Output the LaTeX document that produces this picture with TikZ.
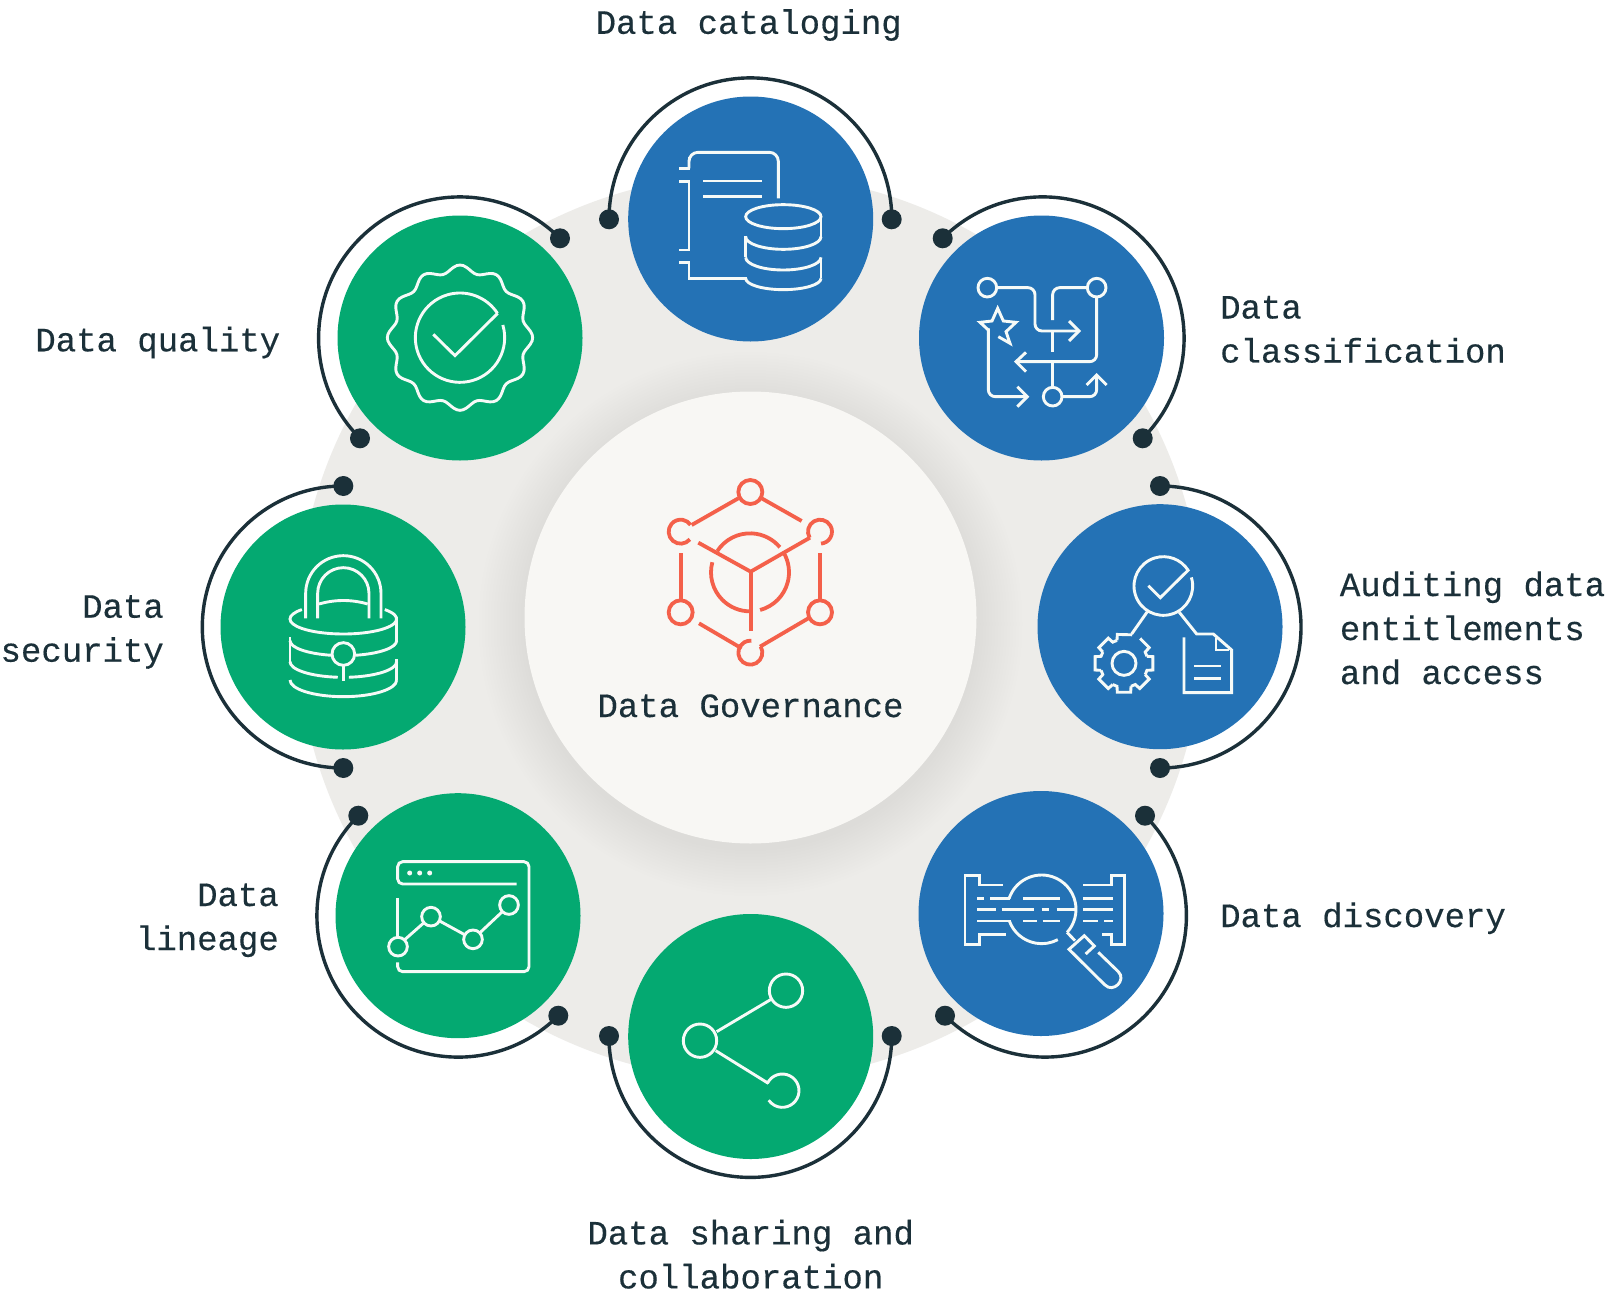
\documentclass[tikz,border=0pt]{standalone}
\usepackage{fontspec}
\newfontfamily\labfont[FakeBold=0.35]{Liberation Mono}
\definecolor{ink}{HTML}{1B3039}
\definecolor{hubblue}{HTML}{2472B5}
\definecolor{hubgreen}{HTML}{04A971}
\definecolor{ringgray}{HTML}{EDECE9}
\definecolor{corefill}{HTML}{F8F7F4}
\definecolor{coral}{HTML}{F4604A}
\definecolor{glyph}{HTML}{F6FAF7}
\newcommand{\carc}[5]{({#1+(#3)*cos(#4)},{#2+(#3)*sin(#4)}) arc[start angle=#4,end angle=#5,radius=#3]}
\newcommand{\earc}[6]{({#1+(#3)*cos(#5)},{#2+(#4)*sin(#5)}) arc[start angle=#5,end angle=#6,x radius=#3,y radius=#4]}
\tikzset{
  hub/.style={circle,inner sep=0pt,minimum size=245pt,draw=none},
  bluehub/.style={hub,fill=hubblue},
  greenhub/.style={hub,fill=hubgreen},
  enddot/.style={circle,fill=ink,inner sep=0pt,minimum size=20pt,draw=none},
  ringline/.style={draw=ink,line width=3.4pt},
  label/.style={font=\labfont\fontsize{34}{44}\selectfont,text=ink,inner sep=0pt},
  icon/.style={draw=glyph,line width=2.9pt,line cap=butt,line join=miter},
  zoomed/.style={x=0.33333pt,y=-0.33333pt},
  coreline/.style={draw=coral,line width=3.8pt},
}
\begin{document}
\begin{tikzpicture}[x=1pt,y=-1pt]
\useasboundingbox (0,0) rectangle (1606,1298);
\fill[white] (0,0) rectangle (1606,1298);
\fill[ringgray] (750,627) circle (453);
\foreach \k in {1,...,16} \fill[black,opacity=0.002] (750.5,624) circle ({224+3*\k});
\node[circle,fill=corefill,inner sep=0pt,minimum size=452pt] (core) at (750.5,617.5) {};

% dots
\node[enddot] (a1) at (609,219.3) {};
\node[enddot] (a2) at (891.7,219.3) {};
\node[enddot] (b1) at (942.7,238.3) {};
\node[enddot] (b2) at (1142.7,438.3) {};
\node[enddot] (c1) at (1160,486) {};
\node[enddot] (c2) at (1160,768) {};
\node[enddot] (d1) at (1145,815.7) {};
\node[enddot] (d2) at (945,1015.7) {};
\node[enddot] (e1) at (891.7,1036) {};
\node[enddot] (e2) at (609,1036) {};
\node[enddot] (f1) at (558.3,1015.7) {};
\node[enddot] (f2) at (358.3,815.7) {};
\node[enddot] (g1) at (343.3,768) {};
\node[enddot] (g2) at (343.3,486) {};
\node[enddot] (h1) at (360,438.3) {};
\node[enddot] (h2) at (560,238.3) {};
% arcs
\path[ringline] (a1.center) arc[start angle=180,end angle=360,radius=141.4];
\path[ringline] (b1.center) arc[start angle=-135,end angle=45,radius=141.4];
\path[ringline] (c1.center) arc[start angle=-90,end angle=90,radius=141];
\path[ringline] (d1.center) arc[start angle=-45,end angle=135,radius=141.4];
\path[ringline] (e1.center) arc[start angle=0,end angle=180,radius=141.4];
\path[ringline] (f1.center) arc[start angle=45,end angle=225,radius=141.4];
\path[ringline] (g1.center) arc[start angle=90,end angle=270,radius=141];
\path[ringline] (h1.center) arc[start angle=135,end angle=315,radius=141.4];
% hubs
\node[bluehub] (catalog) at (750.7,219) {};
\node[bluehub] (classify) at (1041.5,338) {};
\node[bluehub] (audit) at (1160,626.7) {};
\node[bluehub] (discover) at (1041,913.5) {};
\node[greenhub] (share) at (750.7,1036.5) {};
\node[greenhub] (lineage) at (458,915.7) {};
\node[greenhub] (security) at (343,627) {};
\node[greenhub] (quality) at (460,338) {};

% labels
\node[label,anchor=base] (t0) at (750.5,717) {Data Governance};
\node[label,anchor=base] (t1) at (748.7,33.8) {Data cataloging};
\node[label,anchor=base west,align=left] (t2) at (1220,362.5) {Data\\classification};
\node[label,anchor=base west,align=left] (t3) at (1339.7,684) {Auditing data\\entitlements\\and access};
\node[label,anchor=base west] (t4) at (1220,927) {Data discovery};
\node[label,anchor=base,align=center] (t5) at (750.7,1288.4) {Data sharing and\\collaboration};
\node[label,anchor=base east,align=right] (t6) at (279,950) {Data\\lineage};
\node[label,anchor=base east,align=right] (t7) at (164,661.7) {Data\\security};
\node[label,anchor=base east] (t8) at (280.4,351.3) {Data quality};

% centre icon
\begin{scope}[shift={(520,390)},zoomed]
\path[coreline] (691,306) circle (36);
\path[coreline] (482,667) circle (36);
\path[coreline] (900,667) circle (36);
\path[coreline] \carc{482}{425}{36}{40}{325};
\path[coreline] \carc{900}{425}{36}{150}{445};
\path[coreline] \carc{691}{788}{36}{-30}{275};
\path[coreline] (515,405)--(655,325);
\path[coreline] (725,325)--(845,393);
\path[coreline] (870,443)--(692,545)--(535,458);
\path[coreline] (692,545)--(692,722);
\path[coreline] (482,490)--(482,630);
\path[coreline] (900,490)--(900,630);
\path[coreline] (537,700)--(665,775);
\path[coreline] (720,770)--(865,685);
\path[coreline] \carc{690}{547}{117}{-147}{-40};
\path[coreline] \carc{690}{547}{117}{195}{90};
\path[coreline] \carc{690}{547}{117}{75}{-30};
\end{scope}

% catalog
\begin{scope}[shift={(600,70)},zoomed]
\draw[icon,rounded corners=9pt] (267,295)--(267,247)--(535,247)--(535,385);
\draw[icon] (237,295)--(267,295)--(267,260);
\draw[icon] (237,335)--(267,335)--(267,540)--(237,540);
\draw[icon] (237,578)--(267,578)--(267,625)--(440,625);
\draw[icon] (310,333)--(487,333);
\draw[icon] (310,380)--(487,380);
\draw[icon] (550,440) ellipse[x radius=113,y radius=36];
\draw[icon] (663,440)--(663,500);
\draw[icon] \earc{550}{500}{113}{38}{0}{180};
\draw[icon] (437,497)--(437,562);
\draw[icon] \earc{550}{562}{113}{38}{180}{0};
\draw[icon] (663,563)--(663,625);
\draw[icon] \earc{550}{625}{113}{34}{0}{180};
\end{scope}

% classification
\begin{scope}[shift={(920,190)},zoomed]
\draw[icon] (202,293) circle (28);
\draw[icon] (530,293) circle (28);
\draw[icon] (398,620) circle (28);
\draw[icon,rounded corners=7pt] (232,293)--(345,293)--(345,423)--(475,423);
\draw[icon] (447,393)--(477,423)--(447,453);
\draw[icon,rounded corners=7pt] (505,293)--(398,293)--(398,390);
\draw[icon] (398,425)--(398,485);
\draw[icon,rounded corners=7pt] (530,322)--(530,515)--(290,515);
\draw[icon] (318,487)--(288,515)--(318,545);
\draw[icon] (398,515)--(398,592);
\draw[icon,rounded corners=7pt] (428,620)--(530,620)--(530,558);
\draw[icon] (500,585)--(530,555)--(560,585);
\draw[icon,rounded corners=7pt] (205,415)--(205,620)--(323,620);
\draw[icon] (292,590)--(322,620)--(292,650);
\draw[icon] (235,440)--(270,460)--(258,425)--(288,397)--(250,393)--(233,355)--(216,393)--(180,397)--(205,420);
\end{scope}

% auditing
\begin{scope}[shift={(1040,480)},zoomed]
\draw[icon] \carc{370}{318}{88}{-17}{328};
\draw[icon] (325,317)--(361,353)--(447,268);
\draw[icon] (322,395)--(275,462);
\begin{scope}[shift={(252,550)}]
\draw[icon] (0,0) circle (36);
\draw[icon] (-107:72)--(-103:89)--(-74:89);
\draw[icon] (-57:89)--(-32:89)--(-28:72) arc[start angle=-28,end angle=-17,radius=72];
\foreach \a in {0,45,90,135,180,225}{
  \draw[icon] ({\a-17}:72)--({\a-13}:89)--({\a+13}:89)--({\a+17}:72) arc[start angle={\a+17},end angle={\a+28},radius=72];
}
\end{scope}
\draw[icon] (432,472)--(432,638)--(575,638)--(575,510)--(520,462)--(470,462)--(418,397);
\draw[icon] (528,475)--(528,510)--(568,510);
\draw[icon] (463,558)--(543,558);
\draw[icon] (463,595)--(543,595);
\end{scope}

% discovery
\begin{scope}[shift={(920,790)},zoomed]
\draw[icon] (248,285)--(178,285)--(178,257)--(135,257)--(135,463)--(178,463)--(178,433)--(258,433);
\draw[icon] (490,285)--(575,285)--(575,257)--(613,257)--(613,463)--(575,463)--(575,433)--(545,433);
\foreach \p/\q/\r in {172/192/325,210/270/325,310/420/325,490/580/325,
 172/228/358,245/343/358,365/388/358,410/470/358,490/580/358,
 172/272/393,310/352/393,368/420/393,490/533/393,553/580/393}{
  \draw[icon] (\p,\r)--(\q,\r);
}
\draw[icon] \carc{365}{358}{103}{-162}{42};
\draw[icon] \carc{365}{358}{103}{160}{62};
\draw[icon] (441,427)--(465,452);
\draw[icon] (535,487)--(595,545) .. controls (620,570) and (580,610) .. (555,585)--(447,478)--(493,437)--(523,468)--(497,492);
\end{scope}

% sharing
\begin{scope}[shift={(620,920)},zoomed]
\draw[icon] (498,212) circle (50);
\draw[icon] (240,362) circle (50);
\draw[icon] \carc{487}{512}{50}{-153}{145};
\draw[icon] (290,335)--(455,237);
\draw[icon] (287,392)--(445,490);
\end{scope}

% lineage
\begin{scope}[shift={(320,790)},zoomed]
\draw[icon,rounded corners=5pt] (590,282)--(233,282)--(233,215)--(627,215)--(627,545)--(233,545)--(233,517);
\draw[icon] (233,325)--(233,440);
\foreach \x in {269,299,329} \fill[glyph] (\x,249) circle (7.5);
\draw[icon] (234,470) circle (28);
\draw[icon] (333,380) circle (28);
\draw[icon] (459,448) circle (28);
\draw[icon] (567,345) circle (28);
\draw[icon] (253,450)--(312,398);
\draw[icon] (359,393)--(432,433);
\draw[icon] (480,428)--(547,365);
\end{scope}

% security
\begin{scope}[shift={(200,480)},zoomed]
\draw[icon] \earc{430}{417}{160}{45}{-39}{219};
\draw[icon] (357,372) .. controls (405,358) and (455,358) .. (503,372);
\draw[icon] (317,415)--(317,340) arc[start angle=180,end angle=360,radius=113]--(543,415);
\draw[icon] (353,415)--(353,340) arc[start angle=180,end angle=360,radius=77]--(507,415);
\draw[icon] (590,415)--(590,482);
\draw[icon] \earc{430}{482}{160}{45}{0}{77};
\draw[icon] (270,472)--(270,545);
\draw[icon] \earc{430}{482}{160}{45}{180}{102.6};
\draw[icon] \earc{430}{545}{160}{47}{180}{96};
\draw[icon] \earc{430}{545}{160}{47}{0}{84};
\draw[icon] (590,537)--(590,600);
\draw[icon] \earc{430}{600}{160}{50}{0}{180};
\draw[icon] (430,522) circle (34);
\draw[icon] (430,556)--(430,603);
\end{scope}

% quality
\begin{scope}[shift={(310,190)},zoomed]
\draw[icon,smooth cycle] plot[domain=0:357.5,samples=144,variable=\t] ({450+(207+11*cos(12*\t))*cos(\t)},{443+(207+11*cos(12*\t))*sin(\t)});
\draw[icon] \carc{450}{443}{134}{-16.5}{327};
\draw[icon] (370,433)--(435,497)--(563,370);
\end{scope}
\end{tikzpicture}
\end{document}
